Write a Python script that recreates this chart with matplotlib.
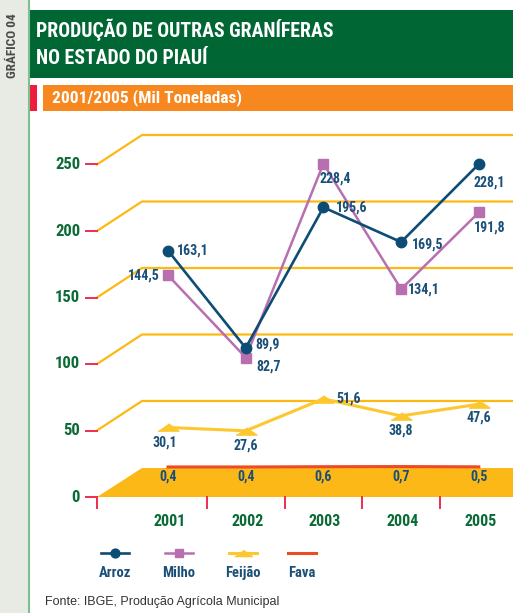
import numpy as np
import matplotlib.pyplot as plt
from matplotlib import font_manager
from matplotlib.lines import Line2D
from matplotlib.patches import Rectangle, Polygon

# dados (mil toneladas)
anos = [2001, 2002, 2003, 2004, 2005]
arroz = [163.1, 89.9, 195.6, 169.5, 228.1]
milho = [144.5, 82.7, 228.4, 134.1, 191.8]
feijao = [30.1, 27.6, 51.6, 38.8, 47.6]
fava = [0.4, 0.4, 0.6, 0.7, 0.5]
yticks = [0, 50, 100, 150, 200, 250]
nomes = ['Arroz', 'Milho', 'Feijão', 'Fava']

# fonte estreita, se houver
instaladas = {f.name for f in font_manager.fontManager.ttflist}
cands = ['Roboto Condensed', 'Open Sans Condensed', 'Liberation Sans Narrow',
         'DejaVu Sans Condensed', 'Liberation Sans']
COND = [c for c in cands if c in instaladas] + ['DejaVu Sans']
COND = COND[:1] + ['DejaVu Sans']

VERDE = '#0b6b35'
AZUL = '#1a4f78'
GRADE = '#fdb913'
VERM = '#ee2d4f'

W, H = 513, 613
fig = plt.figure(figsize=(W / 100, H / 100), dpi=100)
fig.patch.set_facecolor('white')

def fx(px):
    return px / W

def fy(py):
    return 1 - py / H

# faixa lateral
fig.add_artist(Rectangle((0, 0), fx(28), 1, transform=fig.transFigure,
                         color='#e7ebe3', lw=0))
fig.add_artist(Line2D([fx(28.5)] * 2, [0, 1], transform=fig.transFigure,
                      color='#7cc08e', lw=1.5))
fig.text(fx(13), fy(46), 'GRÁFICO 04', rotation=90, ha='center', va='center',
         fontsize=9.5, fontweight='bold', color='#4a4a4a', family=COND)

# banner titulo
fig.add_artist(Rectangle((fx(29), fy(78)), 1, fy(10) - fy(78),
                         transform=fig.transFigure, color='#006633', lw=0))
fig.text(fx(36), fy(30), 'PRODUÇÃO DE OUTRAS GRANÍFERAS', ha='left', va='center',
         fontsize=14.2, fontweight='bold', color='white', family=COND)
fig.text(fx(36), fy(59), 'NO ESTADO DO PIAUÍ', ha='left', va='center',
         fontsize=14.2, fontweight='bold', color='white', family=COND)

# subtitulo
fig.add_artist(Rectangle((fx(30), fy(111)), fx(7), fy(85) - fy(111),
                         transform=fig.transFigure, color='#ee1c3f', lw=0))
fig.add_artist(Rectangle((fx(43), fy(111)), 1, fy(85) - fy(111),
                         transform=fig.transFigure, color='#f7871f', lw=0))
fig.text(fx(52), fy(98), '2001/2005 (Mil Toneladas)', ha='left', va='center',
         fontsize=12.5, fontweight='bold', color='white', family=COND)

# eixo principal (escala da parede de fundo)
PXY = 77.7   # px por ano
PXV = 1.33   # px por unidade
X0, Y0 = 168, 467.5
left_px, right_px, top_px, bot_px = 80, 513, 125, 512
ax = fig.add_axes([fx(left_px), fy(bot_px), (right_px - left_px) / W, (bot_px - top_px) / H])
ax.set_xlim(2001 + (left_px - X0) / PXY, 2001 + (right_px - X0) / PXY)
ax.set_ylim((Y0 - bot_px) / PXV, (Y0 - top_px) / PXV)
ax.axis('off')

DX = -45 / PXY
DY = -29.5 / PXV
x_back = 2001 + (142 - X0) / PXY
x_front = x_back + DX
x_end = ax.get_xlim()[1]

# piso
ax.add_patch(Polygon([(x_front, DY), (x_end, DY), (x_end, 0), (x_back, 0)],
                     closed=True, color='#fcb817', lw=0, zorder=1))

# grade em perspectiva e ticks do eixo y
for v in yticks:
    if v > 0:
        ax.plot([x_front, x_back, x_end], [v + DY, v, v], color=GRADE, lw=1.6,
                zorder=1, clip_on=False)
    ax.plot([x_front - 11 / PXY, x_front], [v + DY] * 2, color=VERM, lw=1.4,
            clip_on=False, zorder=2)
    ax.text(x_front - 17 / PXY, v + DY, str(v), ha='right', va='center',
            fontsize=12, fontweight='bold', color=VERDE, family=COND)

# ticks do eixo x
for xt in [x_front] + [a + 0.5 for a in anos[:-1]]:
    ax.plot([xt, xt], [DY, DY - 11 / PXV], color=VERM, lw=1.4, clip_on=False, zorder=2)
for a in anos:
    ax.text(a + 0.02, DY - 24 / PXV, str(a), ha='center', va='center',
            fontsize=11.5, fontweight='bold', color=VERDE, family=COND)

# series
tri = [(-1, -0.35), (1, -0.35), (0, 0.35)]
estilos = {
    'Arroz': dict(color='#0d4d75', marker='o', ms=7.5, lw=1.9),
    'Milho': dict(color='#b86fb0', marker='s', ms=7.5, lw=1.8),
    'Feijão': dict(color='#fdc82f', marker=tri, ms=15, lw=2.2),
    'Fava': dict(color='#ee4a23', marker=None, ms=0, lw=2.2),
}
valores = {'Arroz': arroz, 'Milho': milho, 'Feijão': feijao, 'Fava': fava}
for n in ['Fava', 'Feijão', 'Milho', 'Arroz']:
    e = estilos[n]
    ax.plot(anos, valores[n], color=e['color'], lw=e['lw'], marker=e['marker'],
            ms=e['ms'], mec=e['color'], mfc=e['color'], zorder=4, clip_on=False)

# rotulos de valores (offset em px)
off = {
    'Arroz': [(9, 0, 'left'), (10, -3, 'left'), (12, 0, 'left'), (11, 2, 'left'), (-5, 18, 'left')],
    'Milho': [(-8, 0, 'right'), (11, 9, 'left'), (-4, 15, 'left'), (7, 0, 'left'), (-5, 15, 'left')],
    'Feijão': [(-3, 15, 'center'), (0, 15, 'center'), (13, 0, 'left'), (0, 15, 'center'), (0, 13, 'center')],
    'Fava': [(0, 10, 'center')] * 5,
}
for n in nomes:
    for a, v, (ox, oy, ha) in zip(anos, valores[n], off[n]):
        ax.annotate(f'{v:.1f}'.replace('.', ','), (a, v), xytext=(ox * 0.72, -oy * 0.72),
                    textcoords='offset points', ha=ha, va='center', fontsize=10,
                    fontweight='bold', color=AZUL, family=COND, zorder=5)

# legenda
leg_x = [115, 179, 243, 302]
for n, cx in zip(nomes, leg_x):
    e = estilos[n]
    fig.add_artist(Line2D([fx(cx - 14), fx(cx + 14)], [fy(553)] * 2,
                          transform=fig.transFigure, color=e['color'], lw=e['lw']))
    if e['marker'] is not None:
        fig.add_artist(Line2D([fx(cx)], [fy(553)], transform=fig.transFigure,
                              color=e['color'], marker=e['marker'],
                              ms=e['ms'] * 0.85, lw=0))
    fig.text(fx(cx), fy(573), n, ha='center', va='center', fontsize=10.5,
             fontweight='bold', color=AZUL, family=COND)

fig.text(fx(45), fy(602), 'Fonte: IBGE, Produção Agrícola Municipal', ha='left',
         va='center', fontsize=9, color='#333333', family=['Liberation Sans', 'DejaVu Sans'])

fig.savefig('out.png', dpi=100)
